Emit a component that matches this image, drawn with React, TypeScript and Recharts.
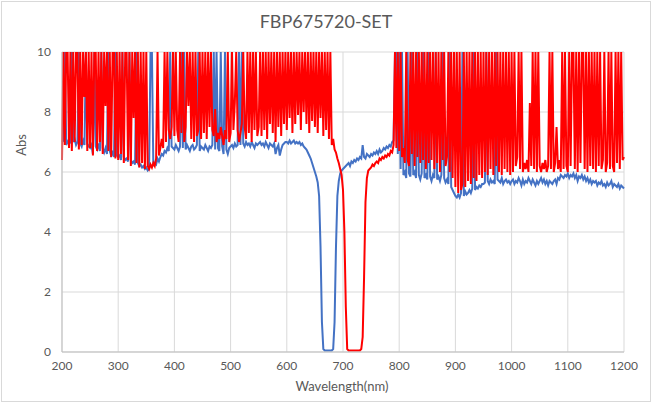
import { LineChart, Line, XAxis, YAxis, CartesianGrid } from 'recharts';

// wavelength (nm), one row = 50 nm
const wavelengths = [
  200, 202.5, 205, 207.5, 210, 212.5, 215, 217.5, 220, 222.5, 225, 227.5, 230, 232.5, 235, 237.5, 240, 242.5, 245, 247.5,
  250, 252.5, 255, 257.5, 260, 262.5, 265, 267.5, 270, 272.5, 275, 277.5, 280, 282.5, 285, 287.5, 290, 292.5, 295, 297.5,
  300, 302.5, 305, 307.5, 310, 312.5, 315, 317.5, 320, 322.5, 325, 327.5, 330, 332.5, 335, 337.5, 340, 342.5, 345, 347.5,
  350, 352.5, 355, 357.5, 360, 362.5, 365, 367.5, 370, 372.5, 375, 377.5, 380, 382.5, 385, 387.5, 390, 392.5, 395, 397.5,
  400, 402.5, 405, 407.5, 410, 412.5, 415, 417.5, 420, 422.5, 425, 427.5, 430, 432.5, 435, 437.5, 440, 442.5, 445, 447.5,
  450, 452.5, 455, 457.5, 460, 462.5, 465, 467.5, 470, 472.5, 475, 477.5, 480, 482.5, 485, 487.5, 490, 492.5, 495, 497.5,
  500, 502.5, 505, 507.5, 510, 512.5, 515, 517.5, 520, 522.5, 525, 527.5, 530, 532.5, 535, 537.5, 540, 542.5, 545, 547.5,
  550, 552.5, 555, 557.5, 560, 562.5, 565, 567.5, 570, 572.5, 575, 577.5, 580, 582.5, 585, 587.5, 590, 592.5, 595, 597.5,
  600, 602.5, 605, 607.5, 610, 612.5, 615, 617.5, 620, 622.5, 625, 627.5, 630, 632.5, 635, 637.5, 640, 642.5, 645, 647.5,
  650, 652.5, 655, 657.5, 660, 662.5, 665, 667.5, 670, 672.5, 675, 677.5, 680, 682.5, 685, 687.5, 690, 692.5, 695, 697.5,
  700, 702.5, 705, 707.5, 710, 712.5, 715, 717.5, 720, 722.5, 725, 727.5, 730, 732.5, 735, 737.5, 740, 742.5, 745, 747.5,
  750, 752.5, 755, 757.5, 760, 762.5, 765, 767.5, 770, 772.5, 775, 777.5, 780, 782.5, 785, 787.5, 790, 792.5, 795, 797.5,
  800, 802.5, 805, 807.5, 810, 812.5, 815, 817.5, 820, 822.5, 825, 827.5, 830, 832.5, 835, 837.5, 840, 842.5, 845, 847.5,
  850, 852.5, 855, 857.5, 860, 862.5, 865, 867.5, 870, 872.5, 875, 877.5, 880, 882.5, 885, 887.5, 890, 892.5, 895, 897.5,
  900, 902.5, 905, 907.5, 910, 912.5, 915, 917.5, 920, 922.5, 925, 927.5, 930, 932.5, 935, 937.5, 940, 942.5, 945, 947.5,
  950, 952.5, 955, 957.5, 960, 962.5, 965, 967.5, 970, 972.5, 975, 977.5, 980, 982.5, 985, 987.5, 990, 992.5, 995, 997.5,
  1000, 1002.5, 1005, 1007.5, 1010, 1012.5, 1015, 1017.5, 1020, 1022.5, 1025, 1027.5, 1030, 1032.5, 1035, 1037.5, 1040, 1042.5, 1045, 1047.5,
  1050, 1052.5, 1055, 1057.5, 1060, 1062.5, 1065, 1067.5, 1070, 1072.5, 1075, 1077.5, 1080, 1082.5, 1085, 1087.5, 1090, 1092.5, 1095, 1097.5,
  1100, 1102.5, 1105, 1107.5, 1110, 1112.5, 1115, 1117.5, 1120, 1122.5, 1125, 1127.5, 1130, 1132.5, 1135, 1137.5, 1140, 1142.5, 1145, 1147.5,
  1150, 1152.5, 1155, 1157.5, 1160, 1162.5, 1165, 1167.5, 1170, 1172.5, 1175, 1177.5, 1180, 1182.5, 1185, 1187.5, 1190, 1192.5, 1195, 1197.5,
  1200,
];

// blue trace (675 nm notch)
const blueAbs = [
  7.0, 7.05, 10, 6.9, 7.0, 7.1, 6.95, 10, 7.0, 7.1, 6.9, 7.0, 10, 6.95, 6.85, 7.05, 6.9, 10, 6.95, 6.85,
  6.8, 6.9, 6.6, 10, 6.85, 6.75, 6.95, 6.7, 10, 6.8, 6.65, 6.8, 6.6, 10, 6.7, 6.55, 6.65, 6.5, 10, 6.55,
  6.5, 6.55, 6.4, 10, 6.5, 6.4, 6.45, 6.35, 10, 6.4, 6.3, 6.35, 6.25, 10, 6.3, 6.2, 6.25, 6.15, 6.2, 6.1,
  6.15, 6.05, 6.1, 10, 10, 6.2, 6.3, 6.25, 6.45, 6.35, 6.5, 6.6, 6.55, 6.7, 6.65, 6.8, 6.7, 10, 6.85, 6.8,
  6.75, 6.9, 6.8, 6.7, 6.85, 10, 6.8, 10, 6.75, 6.9, 6.8, 6.7, 6.85, 6.9, 6.75, 6.8, 6.9, 10, 6.7, 6.85,
  6.8, 6.75, 6.9, 6.8, 6.7, 6.85, 6.8, 6.9, 10, 6.75, 10, 6.8, 6.7, 10, 6.85, 6.6, 10, 6.75, 6.6, 6.8,
  6.85, 6.9, 6.8, 6.95, 6.85, 6.9, 10, 6.9, 10, 6.95, 6.85, 7.0, 6.9, 6.95, 6.85, 7.0, 6.9, 6.8, 6.95, 6.9,
  6.95, 7.0, 6.9, 6.95, 6.85, 7.0, 6.9, 6.8, 6.95, 6.9, 6.85, 6.95, 6.6, 6.8, 6.9, 6.55, 6.75, 6.9, 6.95, 7.0,
  7.0, 6.95, 7.05, 6.95, 7.0, 7.05, 6.95, 7.0, 6.95, 7.0, 6.9, 6.95, 6.85, 6.8, 6.75, 6.65, 6.55, 6.45, 6.3, 6.15,
  6.0, 5.85, 5.65, 5.2, 3.5, 1.0, 0.1, 0.05, 0.05, 0.05, 0.05, 0.05, 0.05, 0.1, 1.0, 3.5, 5.2, 5.7, 5.95, 6.05,
  6.1, 6.15, 6.2, 6.25, 6.3, 6.2, 6.35, 6.3, 6.4, 6.35, 6.45, 6.4, 6.5, 6.45, 6.9, 6.5, 6.45, 6.6, 6.55, 6.5,
  6.6, 6.55, 6.65, 6.6, 6.7, 6.6, 6.75, 6.65, 6.7, 6.8, 6.75, 6.85, 6.8, 6.9, 6.85, 7.0, 7.05, 10, 10, 6.6,
  10, 6.1, 10, 5.9, 6.0, 5.8, 10, 5.95, 5.85, 10, 5.9, 6.0, 5.8, 10, 5.9, 5.75, 5.95, 10, 5.8, 5.9,
  5.75, 10, 5.85, 5.7, 5.9, 5.8, 10, 5.75, 5.85, 5.7, 5.9, 10, 5.8, 5.65, 5.75, 5.6, 10, 5.5, 5.4, 5.3,
  5.2, 5.15, 5.25, 5.15, 5.3, 10, 5.2, 5.35, 5.25, 5.3, 5.4, 5.3, 5.45, 10, 5.4, 5.5, 5.45, 5.55, 5.5, 5.6,
  5.6, 5.65, 10, 5.7, 5.6, 5.75, 5.65, 5.7, 5.6, 10, 5.75, 5.7, 5.65, 5.8, 5.6, 5.7, 5.75, 5.65, 5.7, 5.6,
  5.7, 5.75, 5.6, 5.7, 5.65, 5.8, 5.7, 5.55, 5.75, 5.6, 5.7, 5.65, 5.8, 5.7, 5.6, 5.75, 5.65, 5.55, 5.7, 5.6,
  5.7, 5.8, 5.65, 5.75, 5.6, 5.7, 5.55, 5.7, 5.65, 5.6, 5.7, 5.75, 5.6, 5.8, 5.75, 5.9, 5.85, 5.8, 5.9, 5.85,
  5.95, 5.8, 5.9, 5.85, 5.95, 5.8, 5.9, 5.7, 5.85, 5.8, 5.9, 5.75, 5.85, 5.7, 5.8, 5.65, 5.75, 5.6, 5.7, 5.65,
  5.7, 5.55, 5.65, 5.6, 5.7, 5.55, 5.6, 5.5, 5.65, 5.55, 5.6, 5.7, 5.5, 5.6, 5.55, 5.5, 5.6, 5.45, 5.55, 5.5,
  5.45,
];

// red trace (720 nm notch)
const redAbs = [
  6.4, 10, 6.9, 10, 10, 6.8, 10, 6.7, 10, 7.0, 10, 10, 6.75, 10, 6.9, 10, 8.5, 10, 6.7, 10,
  6.8, 10, 6.55, 10, 10, 6.7, 10, 7.0, 10, 6.6, 10, 8.2, 10, 6.7, 10, 6.5, 10, 10, 6.45, 10,
  6.4, 10, 6.6, 10, 6.3, 10, 10, 6.4, 10, 6.2, 10, 7.8, 10, 6.3, 10, 6.15, 10, 6.3, 10, 6.1,
  10, 6.2, 6.1, 6.25, 6.15, 6.3, 6.2, 6.45, 10, 6.55, 6.8, 7.1, 6.8, 10, 7.0, 10, 7.4, 7.1, 7.5, 10,
  7.2, 10, 7.4, 7.0, 10, 7.3, 10, 7.0, 7.5, 10, 8.2, 10, 7.1, 10, 7.0, 10, 7.2, 7.4, 10, 7.1,
  10, 7.3, 10, 7.1, 10, 7.5, 10, 7.4, 7.2, 8.1, 7.0, 7.3, 7.1, 7.5, 7.2, 6.9, 7.4, 7.1, 10, 7.0,
  7.3, 10, 7.4, 8.3, 10, 7.4, 7.0, 7.3, 7.6, 10, 7.5, 7.1, 10, 7.3, 10, 7.0, 10, 7.4, 10, 7.2,
  7.5, 10, 7.2, 10, 7.4, 10, 7.1, 10, 7.6, 10, 7.3, 10, 7.0, 10, 7.5, 10, 7.2, 10, 7.6, 10,
  7.4, 10, 7.8, 10, 7.3, 10, 7.6, 10, 7.9, 10, 7.4, 10, 8.0, 10, 7.6, 10, 7.3, 10, 7.7, 10,
  7.5, 10, 7.3, 10, 7.8, 10, 7.2, 10, 7.4, 10, 7.1, 10, 6.9, 7.1, 6.75, 6.65, 6.45, 6.3, 6.1, 5.9,
  5.4, 4.0, 1.5, 0.1, 0.05, 0.05, 0.05, 0.05, 0.05, 0.05, 0.05, 0.05, 0.05, 0.1, 0.5, 2.5, 5.0, 5.8, 6.05, 6.1,
  6.15, 6.25, 6.2, 6.3, 6.35, 6.3, 6.45, 6.4, 6.5, 6.45, 6.55, 6.5, 6.6, 6.55, 6.7, 6.65, 6.9, 10, 6.8, 10,
  6.7, 10, 6.5, 6.8, 6.3, 10, 6.4, 6.2, 10, 6.6, 10, 6.2, 10, 6.5, 10, 6.3, 10, 6.4, 10, 6.1,
  10, 6.3, 10, 6.4, 10, 6.1, 10, 6.3, 10, 6.0, 10, 6.4, 10, 6.2, 6.5, 10, 6.0, 10, 5.8, 10,
  5.5, 10, 5.3, 10, 5.4, 5.6, 10, 5.5, 10, 5.7, 10, 5.6, 10, 5.8, 10, 5.7, 10, 5.9, 10, 5.8,
  10, 6.0, 10, 5.9, 10, 6.1, 10, 5.9, 10, 6.2, 10, 6.0, 10, 5.9, 10, 6.1, 10, 6.0, 10, 5.9,
  10, 6.0, 10, 6.2, 6.5, 10, 6.1, 10, 6.0, 6.3, 6.1, 6.4, 6.0, 8.3, 6.2, 10, 6.1, 10, 6.0, 10,
  6.2, 6.0, 6.3, 6.1, 6.4, 6.0, 6.2, 10, 6.1, 10, 6.0, 6.3, 7.5, 6.1, 6.4, 6.0, 10, 6.1, 10, 6.2,
  6.0, 10, 6.2, 10, 10, 6.1, 10, 6.0, 10, 6.3, 10, 10, 6.1, 10, 6.0, 10, 6.2, 10, 6.1, 10,
  6.0, 10, 6.2, 10, 6.1, 6.4, 10, 6.0, 6.3, 10, 6.1, 10, 6.2, 6.0, 10, 6.3, 10, 6.1, 10, 6.4,
  6.5,
];

const xTicks = [200, 300, 400, 500, 600, 700, 800, 900, 1000, 1100, 1200];
const yTicks = [0, 2, 4, 6, 8, 10];

const data = wavelengths.map((nm, i) => ({ nm, blue: blueAbs[i], red: redAbs[i] }));

const FONT = 'Lato, "Open Sans", sans-serif';
const TEXT = '#595959';

export default function App() {
  return (
    <div
      style={{
        position: 'absolute',
        left: 0,
        top: 0,
        width: 652,
        height: 404,
        background: '#fff',
        fontFamily: FONT,
      }}
    >
      {/* chart area border */}
      <div
        style={{
          position: 'absolute',
          left: 1,
          top: 1,
          width: 648,
          height: 399,
          border: '1px solid #d9d9d9',
        }}
      />
      <LineChart
        width={652}
        height={404}
        data={data}
        margin={{ top: 52, right: 28, bottom: 12, left: 0 }}
      >
        <CartesianGrid stroke="#d9d9d9" strokeWidth={1} />
        <XAxis
          dataKey="nm"
          type="number"
          domain={[200, 1200]}
          ticks={xTicks}
          height={40}
          tickLine={false}
          axisLine={{ stroke: '#bfbfbf' }}
          tickMargin={3}
          tick={{ fill: TEXT, fontSize: 12, fontFamily: FONT }}
        />
        <YAxis
          type="number"
          domain={[0, 10]}
          ticks={yTicks}
          width={62}
          allowDataOverflow
          tickLine={false}
          axisLine={{ stroke: '#bfbfbf' }}
          tickMargin={5}
          tick={{ fill: TEXT, fontSize: 12, fontFamily: FONT }}
        />
        <Line
          type="linear"
          dataKey="blue"
          stroke="#4472C4"
          strokeWidth={2}
          dot={false}
          isAnimationActive={false}
        />
        <Line
          type="linear"
          dataKey="red"
          stroke="#FF0000"
          strokeWidth={2}
          dot={false}
          isAnimationActive={false}
        />
      </LineChart>
      {/* title */}
      <div
        style={{
          position: 'absolute',
          left: 0,
          top: 10,
          width: 652,
          textAlign: 'center',
          fontSize: 18,
          color: TEXT,
        }}
      >
        FBP675720-SET
      </div>
      {/* y axis title */}
      <div
        style={{
          position: 'absolute',
          left: 21,
          top: 145,
          transform: 'translate(-50%, -50%) rotate(-90deg)',
          fontSize: 13,
          color: TEXT,
          whiteSpace: 'nowrap',
        }}
      >
        Abs
      </div>
      {/* x axis title */}
      <div
        style={{
          position: 'absolute',
          left: 342,
          top: 386,
          transform: 'translate(-50%, -50%)',
          fontSize: 13,
          color: TEXT,
          whiteSpace: 'nowrap',
        }}
      >
        Wavelength(nm)
      </div>
    </div>
  );
}
